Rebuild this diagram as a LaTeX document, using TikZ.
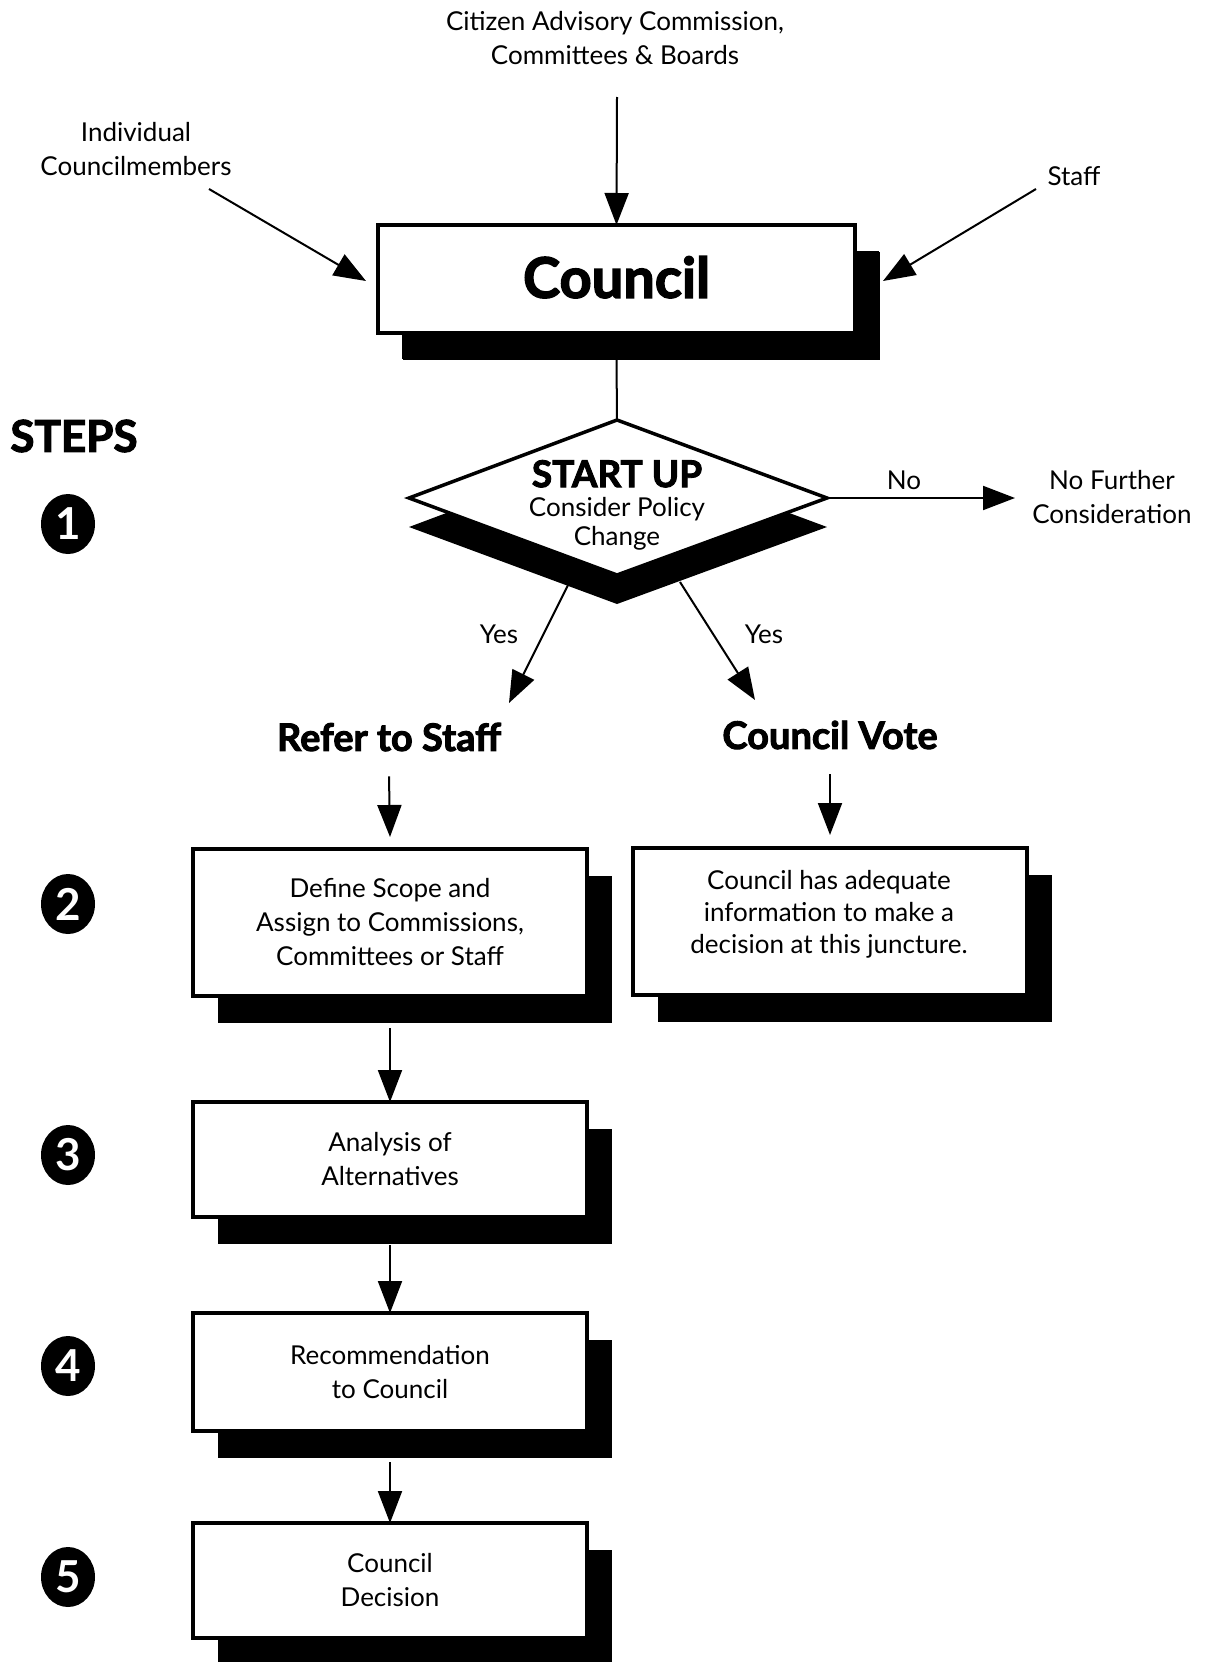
\documentclass[tikz,border=0pt]{standalone}
\usepackage{fontspec}
\setmainfont{Lato}
\newfontfamily\heavy{Lato}[BoldFeatures={FakeBold=2.5}]
\usetikzlibrary{arrows.meta,shadows,shapes.geometric}
\begin{document}
\begin{tikzpicture}[x=1pt,y=-1pt,
  every node/.style={inner sep=0pt, outer sep=0pt},
  lbl/.style={align=center, font=\fontsize{26}{34}\selectfont},
  head/.style={font=\fontsize{38}{40}\selectfont\heavy\bfseries},
  box/.style={draw, line width=3.5pt, fill=white, minimum width=394pt, align=center,
    font=\fontsize{26}{34}\selectfont,
    general shadow={fill=black, shadow xshift=25pt, shadow yshift=-27pt}},
  arr/.style={line width=2pt, -{Triangle[length=32pt,width=24pt]}},
  num/.style={shape=ellipse, fill=black, text=white, minimum width=54pt, minimum height=60pt,
    font=\fontsize{44}{44}\selectfont\bfseries},
]
\useasboundingbox (0,0) rectangle (1205,1662);

% top inputs
\node[lbl] (cit) at (615,38) {Citizen Advisory Commission,\\Committees \& Boards};
\node[lbl] (ind) at (136,149) {Individual\\Councilmembers};
\node[lbl] (stf) at (1074,176) {Staff};

% Council box
\node[box, minimum width=477pt, minimum height=108pt, line width=4pt,
  general shadow={fill=black, shadow xshift=24pt, shadow yshift=-26pt},
  font=\fontsize{56}{56}\selectfont\heavy\bfseries] (council) at (616.5,279) {\raisebox{4pt}{Council}};

\coordinate (citS) at (617,97);
\coordinate (indS) at (209,189);
\coordinate (stfS) at (1036,189);
\draw[arr] (citS) -- (council.north);
\draw[arr] (indS) -- (366,281);
\draw[arr] (stfS) -- (883,281);

% STEPS
\node[font=\fontsize{44}{44}\selectfont\heavy\bfseries] (steps) at (74,436) {STEPS};

% diamond
\coordinate (dT) at (617,420);
\coordinate (dL) at (409,498);
\coordinate (dR) at (827,498);
\coordinate (dB) at (617,575);
\fill[black] ([yshift=-29pt]dT) -- ([yshift=-29pt]dR) -- ([yshift=-29pt]dB) -- ([yshift=-29pt]dL) -- cycle;
\draw[line width=3.5pt, fill=white, line join=miter] (dT) -- (dR) -- (dB) -- (dL) -- cycle;
\node[align=center, font=\fontsize{26}{29}\selectfont] (start) at (617,505)
  {{\fontsize{37}{32}\selectfont\heavy\bfseries START UP}\\Consider Policy\\Change};

\draw[line width=2pt] ([yshift=-26pt]council.south) -- (dT);

% No branch
\node[lbl] (nofc) at (1112,497) {No Further\\Consideration};
\node[lbl] (nolbl) at (904,480) {No};
\draw[arr] (dR) -- (1015,498);

% Yes branches
\coordinate (yL) at (568,585);
\coordinate (yR) at (680,582);
\node[lbl] (yes1) at (499,634) {Yes};
\node[lbl] (yes2) at (764,634) {Yes};
\draw[arr] (yL) -- (509,703);
\draw[arr] (yR) -- (755,700);

\node[head] (refer) at (389,737) {Refer to Staff};
\node[head] (vote) at (830,735) {Council Vote};

% boxes
\node[box, minimum height=147pt] (b2) at (390,922.5)
  {Define Scope and\\Assign to Commissions,\\Committees or Staff};
\node[box, minimum height=147pt] (bcv) at (830,921.5) {};
\node[align=center, font=\fontsize{26}{32}\selectfont] (bcvt) at (829,914)
  {Council has adequate\\information to make a\\decision at this juncture.};
\node[box, minimum height=115pt] (b3) at (390,1159.5) {Analysis of\\Alternatives};
\node[box, minimum height=118pt] (b4) at (390,1372) {Recommendation\\to Council};
\node[box, minimum height=115pt] (b5) at (390,1580.5) {Council\\Decision};

\draw[arr] ([yshift=-25pt]refer.south) -- ([yshift=12pt]b2.north);
\draw[arr] ([yshift=-25pt]vote.south) -- ([yshift=13pt]bcv.north);
\draw[arr] ([yshift=-32pt]b2.south) -- (b3.north);
\draw[arr] ([yshift=-28pt]b3.south) -- (b4.north);
\draw[arr] ([yshift=-31pt]b4.south) -- (b5.north);

% step numbers
\node[num] (n1) at (68,524) {1};
\node[num] (n2) at (68,904) {2};
\node[num] (n3) at (68,1155) {3};
\node[num] (n4) at (68,1366) {4};
\node[num] (n5) at (68,1577) {5};
\end{tikzpicture}
\end{document}
